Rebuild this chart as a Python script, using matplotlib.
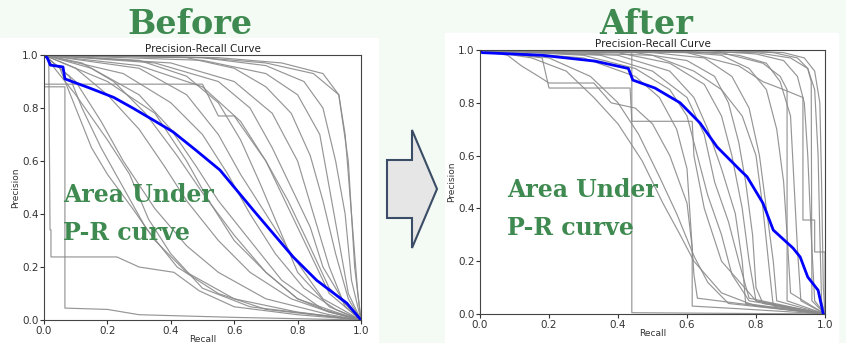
import numpy as np
import matplotlib.pyplot as plt
from matplotlib.patches import Polygon, Rectangle

# curvas precision-recall (recall, precision)
before_blue = [(0, 1.0), (0.01, 0.99), (0.02, 0.962), (0.06, 0.955), (0.066, 0.91),
               (0.145, 0.875), (0.22, 0.84), (0.28, 0.80), (0.344, 0.755), (0.407, 0.71),
               (0.48, 0.64), (0.555, 0.566), (0.66, 0.415), (0.786, 0.238), (0.86, 0.15),
               (0.955, 0.064), (1.0, 0.0)]

before_grey = [
    [(0, 1), (0.5, 0.99), (0.7, 0.97), (0.85, 0.93), (0.93, 0.85), (0.96, 0.6), (0.98, 0.2), (1, 0)],
    [(0, 1), (0.5, 0.98), (0.7, 0.93), (0.8, 0.85), (0.87, 0.7), (0.9, 0.5), (0.93, 0.3), (0.96, 0.1), (1, 0)],
    [(0, 1), (0.4, 0.97), (0.6, 0.9), (0.72, 0.78), (0.8, 0.6), (0.85, 0.4), (0.9, 0.2), (0.95, 0.05), (1, 0)],
    [(0, 1), (0.3, 0.96), (0.5, 0.88), (0.62, 0.75), (0.7, 0.6), (0.77, 0.45), (0.83, 0.3), (0.9, 0.12), (1, 0)],
    [(0, 1), (0.3, 0.95), (0.45, 0.85), (0.55, 0.7), (0.62, 0.55), (0.7, 0.4), (0.78, 0.25), (0.88, 0.08), (1, 0)],
    [(0, 1), (0.15, 0.95), (0.3, 0.85), (0.4, 0.72), (0.48, 0.58), (0.55, 0.45), (0.65, 0.3), (0.75, 0.15), (0.88, 0.04), (1, 0)],
    [(0, 1), (0.08, 0.92), (0.12, 0.8), (0.18, 0.65), (0.25, 0.5), (0.32, 0.35), (0.42, 0.2), (0.55, 0.1), (0.7, 0.04), (1, 0)],
    [(0, 1), (0.1, 0.9), (0.18, 0.75), (0.25, 0.6), (0.35, 0.42), (0.45, 0.28), (0.55, 0.18), (0.7, 0.08), (0.9, 0.02), (1, 0)],
    [(0, 0.88), (0.066, 0.88), (0.066, 0.045), (0.2, 0.04), (0.3, 0.02), (0.6, 0.01), (1, 0)],
    [(0, 1), (0.015, 0.99), (0.019, 0.34), (0.022, 0.34), (0.022, 0.238), (0.23, 0.238), (0.3, 0.2),
     (0.41, 0.18), (0.49, 0.11), (0.6, 0.05), (0.8, 0.02), (1, 0)],
    [(0, 1), (0.1, 0.85), (0.2, 0.68), (0.27, 0.55), (0.33, 0.38), (0.4, 0.25), (0.5, 0.12), (0.65, 0.05), (1, 0)],
    [(0, 1), (0.2, 0.9), (0.35, 0.78), (0.45, 0.6), (0.52, 0.45), (0.6, 0.3), (0.7, 0.18), (0.8, 0.08), (0.9, 0.03), (1, 0)],
    [(0, 1), (0.25, 0.93), (0.4, 0.82), (0.5, 0.7), (0.58, 0.55), (0.65, 0.4), (0.73, 0.25), (0.82, 0.12), (0.92, 0.04), (1, 0)],
    [(0, 1), (0.35, 0.97), (0.55, 0.9), (0.65, 0.8), (0.72, 0.65), (0.78, 0.5), (0.84, 0.35), (0.88, 0.2), (0.94, 0.08), (1, 0)],
    [(0, 1), (0.45, 0.99), (0.6, 0.95), (0.7, 0.88), (0.78, 0.78), (0.84, 0.62), (0.88, 0.45), (0.92, 0.25), (0.96, 0.08), (1, 0)],
    [(0, 1), (0.55, 0.99), (0.75, 0.97), (0.88, 0.93), (0.93, 0.85), (0.95, 0.7), (0.97, 0.4), (0.99, 0.1), (1, 0)],
    [(0, 1), (0.5, 0.99), (0.7, 0.96), (0.82, 0.9), (0.88, 0.8), (0.92, 0.6), (0.95, 0.4), (0.97, 0.15), (1, 0)],
    [(0, 1), (0.1, 0.95), (0.2, 0.85), (0.3, 0.72), (0.38, 0.58), (0.45, 0.45), (0.55, 0.3), (0.65, 0.18), (0.78, 0.08), (0.9, 0.03), (1, 0)],
    [(0, 1), (0.12, 0.97), (0.22, 0.9), (0.32, 0.78), (0.42, 0.62), (0.5, 0.48), (0.6, 0.32), (0.7, 0.18), (0.8, 0.08), (0.92, 0.03), (1, 0)],
    [(0, 1), (0.05, 0.95), (0.1, 0.8), (0.15, 0.65), (0.2, 0.55), (0.28, 0.42), (0.35, 0.3), (0.45, 0.18), (0.6, 0.08), (0.8, 0.03), (1, 0)],
    [(0, 0.89), (0.5, 0.89), (0.55, 0.77), (0.6, 0.77), (0.7, 0.6), (0.8, 0.35), (0.9, 0.1), (1, 0)],
    [(0, 1), (0.3, 0.98), (0.45, 0.92), (0.55, 0.82), (0.62, 0.68), (0.68, 0.52), (0.74, 0.35), (0.8, 0.18), (0.9, 0.05), (1, 0)],
]

after_blue = [(0, 1.0), (0.006, 0.99), (0.18, 0.98), (0.333, 0.958), (0.43, 0.93), (0.443, 0.886),
              (0.507, 0.856), (0.58, 0.80), (0.638, 0.723), (0.687, 0.633), (0.754, 0.545),
              (0.774, 0.52), (0.82, 0.42), (0.85, 0.318), (0.907, 0.25), (0.928, 0.216),
              (0.95, 0.14), (0.98, 0.09), (0.995, 0.0)]

after_grey = [
    [(0, 1), (0.44, 0.99), (0.44, 0.005), (1, 0)],
    [(0, 1), (0.15, 0.97), (0.25, 0.92), (0.33, 0.82), (0.4, 0.72), (0.47, 0.58), (0.53, 0.42), (0.58, 0.3), (0.62, 0.2), (0.7, 0.08), (0.8, 0.03), (1, 0)],
    [(0, 1), (0.2, 0.97), (0.32, 0.9), (0.4, 0.8), (0.46, 0.68), (0.52, 0.52), (0.57, 0.38), (0.62, 0.22), (0.66, 0.12), (0.72, 0.04), (1, 0)],
    [(0, 1), (0.08, 0.98), (0.12, 0.94), (0.17, 0.9), (0.2, 0.875), (0.33, 0.875), (0.38, 0.8), (0.45, 0.78),
     (0.5, 0.72), (0.55, 0.6), (0.6, 0.42), (0.615, 0.25), (0.615, 0.03), (0.75, 0.02), (1, 0)],
    [(0, 1), (0.18, 0.97), (0.2, 0.856), (0.435, 0.856), (0.44, 0.73), (0.615, 0.73), (0.62, 0.6), (0.65, 0.4), (0.7, 0.2), (0.8, 0.05), (1, 0)],
    [(0, 1), (0.3, 0.98), (0.45, 0.93), (0.55, 0.85), (0.6, 0.75), (0.63, 0.6), (0.66, 0.45), (0.7, 0.3), (0.73, 0.15), (0.78, 0.05), (1, 0)],
    [(0, 1), (0.35, 0.98), (0.5, 0.92), (0.6, 0.82), (0.65, 0.68), (0.68, 0.5), (0.72, 0.35), (0.75, 0.2), (0.78, 0.06), (1, 0)],
    [(0, 1), (0.4, 0.99), (0.55, 0.95), (0.65, 0.87), (0.7, 0.75), (0.73, 0.6), (0.76, 0.4), (0.78, 0.2), (0.8, 0.05), (1, 0)],
    [(0, 1), (0.45, 0.99), (0.6, 0.96), (0.68, 0.9), (0.72, 0.8), (0.75, 0.65), (0.77, 0.5), (0.79, 0.3), (0.8, 0.1), (0.82, 0.04), (1, 0)],
    [(0, 1), (0.5, 0.99), (0.65, 0.97), (0.73, 0.9), (0.78, 0.78), (0.81, 0.6), (0.83, 0.4), (0.85, 0.2), (0.86, 0.05), (1, 0)],
    [(0, 1), (0.55, 0.995), (0.7, 0.98), (0.78, 0.93), (0.83, 0.85), (0.86, 0.7), (0.88, 0.5), (0.89, 0.3), (0.9, 0.08), (1, 0)],
    [(0, 1), (0.6, 0.995), (0.75, 0.98), (0.83, 0.95), (0.87, 0.88), (0.9, 0.75), (0.91, 0.5), (0.92, 0.25), (0.93, 0.05), (1, 0)],
    [(0, 1), (0.65, 0.998), (0.8, 0.985), (0.88, 0.96), (0.92, 0.9), (0.94, 0.8), (0.95, 0.6), (0.96, 0.3), (0.97, 0.05), (1, 0)],
    [(0, 1), (0.7, 0.998), (0.85, 0.99), (0.92, 0.97), (0.95, 0.93), (0.97, 0.85), (0.98, 0.6), (0.985, 0.3), (0.99, 0.05), (1, 0)],
    [(0, 1), (0.75, 0.999), (0.88, 0.99), (0.94, 0.97), (0.97, 0.92), (0.985, 0.8), (0.99, 0.5), (0.995, 0.1), (1, 0)],
    [(0, 1), (0.6, 0.99), (0.75, 0.94), (0.82, 0.88), (0.88, 0.85), (0.936, 0.82), (0.936, 0.356), (0.97, 0.356), (0.97, 0.235), (1, 0.235), (1, 0)],
    [(0, 1), (0.3, 0.97), (0.45, 0.9), (0.52, 0.82), (0.57, 0.7), (0.6, 0.55), (0.61, 0.35), (0.62, 0.15), (0.63, 0.06), (0.75, 0.04), (1, 0)],
    [(0, 1), (0.4, 0.98), (0.55, 0.92), (0.62, 0.82), (0.66, 0.7), (0.7, 0.55), (0.74, 0.38), (0.76, 0.2), (0.77, 0.04), (1, 0)],
    [(0, 1), (0.7, 0.99), (0.82, 0.95), (0.87, 0.9), (0.89, 0.85), (0.89, 0.05), (1, 0)],
    [(0, 1), (0.8, 0.99), (0.9, 0.97), (0.95, 0.93), (0.96, 0.88), (0.962, 0.05), (1, 0)],
    [(0, 1), (0.5, 0.98), (0.62, 0.92), (0.7, 0.85), (0.76, 0.75), (0.8, 0.6), (0.82, 0.4), (0.84, 0.15), (0.85, 0.03), (1, 0)],
]

ticks = [0.0, 0.2, 0.4, 0.6, 0.8, 1.0]
verde = '#3f8a50'

fig = plt.figure(figsize=(8.46, 3.43), dpi=100, facecolor='#f4faf4')

# fondo: recuadros blancos y flecha (coordenadas en pixeles)
bg = fig.add_axes([0, 0, 1, 1])
bg.set_xlim(0, 846)
bg.set_ylim(343, 0)
bg.axis('off')
bg.set_zorder(-1)
bg.add_patch(Rectangle((0, 38), 378, 305, color='white'))
bg.add_patch(Rectangle((445, 33), 393, 310, color='white'))
flecha = [(387, 160), (412, 160), (412, 130), (437, 189), (412, 248), (412, 218), (387, 218)]
bg.add_patch(Polygon(flecha, closed=True, facecolor='#e6e6e6', edgecolor='#3b4d66', linewidth=1.5))


def dibujar(ax, grises, azul):
    for curva in grises:
        r, p = zip(*curva)
        ax.plot(r, p, color='#8a8a8a', linewidth=0.85, alpha=0.9)
    r, p = zip(*azul)
    ax.plot(r, p, color='blue', linewidth=2)
    ax.set_xlim(0, 1)
    ax.set_ylim(0, 1)
    ax.set_xticks(ticks)
    ax.set_yticks(ticks)
    ax.tick_params(labelsize=7.5, length=3, pad=1, colors='#333333')
    ax.set_title('Precision-Recall Curve', fontsize=7.5, pad=2, color='#222222')
    ax.set_xlabel('Recall', fontsize=6.5, labelpad=-0.5, color='#333333')
    ax.set_ylabel('Precision', fontsize=6.5, labelpad=1, color='#333333')
    for s in ax.spines.values():
        s.set_color('#444444')


ax1 = fig.add_axes([0.052, 0.067, 0.3747, 0.7726])
dibujar(ax1, before_grey, before_blue)
ax2 = fig.add_axes([0.5674, 0.0845, 0.4078, 0.7697])
dibujar(ax2, after_grey, after_blue)

fuente = dict(family='DejaVu Serif', weight='bold', color=verde)
fig.text(190 / 846, 1 - 24 / 343, 'Before', fontsize=24, ha='center', va='center', **fuente)
fig.text(646 / 846, 1 - 24 / 343, 'After', fontsize=24, ha='center', va='center', **fuente)
fig.text(63 / 846, 1 - 195 / 343, 'Area Under', fontsize=17, ha='left', va='center', **fuente)
fig.text(63 / 846, 1 - 233 / 343, 'P-R curve', fontsize=17, ha='left', va='center', **fuente)
fig.text(507 / 846, 1 - 190 / 343, 'Area Under', fontsize=17, ha='left', va='center', **fuente)
fig.text(507 / 846, 1 - 228 / 343, 'P-R curve', fontsize=17, ha='left', va='center', **fuente)

plt.savefig('out.png', dpi=100, facecolor=fig.get_facecolor())
